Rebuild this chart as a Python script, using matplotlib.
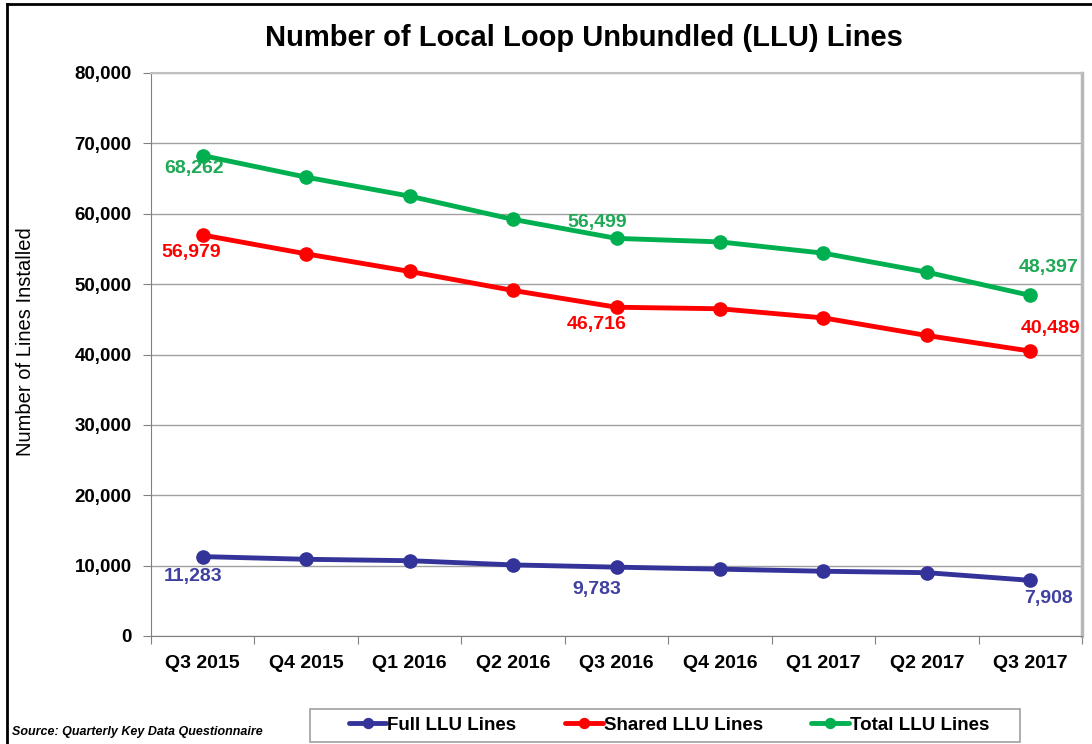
import numpy as np
import matplotlib
matplotlib.use("Agg")
from matplotlib import pyplot as plt
from matplotlib.patches import Rectangle

quarters = ["Q3 2015", "Q4 2015", "Q1 2016", "Q2 2016", "Q3 2016",
            "Q4 2016", "Q1 2017", "Q2 2017", "Q3 2017"]
full_llu = [11283, 10900, 10700, 10100, 9783, 9500, 9200, 9000, 7908]
shared_llu = [56979, 54300, 51800, 49100, 46716, 46500, 45200, 42700, 40489]
total_llu = [68262, 65200, 62500, 59200, 56499, 56000, 54400, 51700, 48397]

# which points get a value label, and where (pixel offsets)
label_idx = [0, 4, 8]
full_off = [(-10, -20), (-20, -22), (18, -18)]
shared_off = [(-12, -17), (-20, -17), (20, 23)]
total_off = [(-9, -13), (-19, 16), (18, 28)]

blue = "#333399"
red = "#ff0000"
green = "#00b050"
blue_txt = "#4040a0"
green_txt = "#1fa855"

plt.rcParams['font.family'] = ['Liberation Sans', 'DejaVu Sans']

fig = plt.figure(figsize=(10.92, 7.44), dpi=100)
ax = fig.add_axes([151 / 1092, 1 - 636 / 744, 931 / 1092, (636 - 73) / 744])

x = np.arange(len(quarters))
series = [
    (full_llu, blue, blue_txt, full_off, "Full LLU Lines"),
    (shared_llu, red, red, shared_off, "Shared LLU Lines"),
    (total_llu, green, green_txt, total_off, "Total LLU Lines"),
]
handles = []
for vals, col, tcol, offs, name in series:
    h, = ax.plot(x, vals, color=col, lw=3.5, marker="o", ms=9.5,
                 solid_capstyle="round", label=name, zorder=3)
    handles.append(h)
    for i, off in zip(label_idx, offs):
        ax.annotate(f"{vals[i]:,}", (x[i], vals[i]), xytext=off,
                    textcoords="offset pixels", ha="center", va="center",
                    fontsize=14, fontweight="bold", color=tcol)

ax.set_xlim(-0.5, len(quarters) - 0.5)
ax.set_ylim(0, 80000)
ax.set_yticks(np.arange(0, 80001, 10000))
ax.set_yticklabels([f"{v:,}" for v in range(0, 80001, 10000)],
                   fontsize=13.5, fontweight="bold")
ax.yaxis.grid(True, color="#a0a0a0", lw=1)
ax.set_axisbelow(True)

ax.set_xticks(np.arange(-0.5, len(quarters), 1))
ax.set_xticklabels([])
ax.set_xticks(x, minor=True)
ax.set_xticklabels(quarters, minor=True, fontsize=14, fontweight="bold")
ax.tick_params(axis="x", which="minor", length=0, pad=14)
ax.tick_params(axis="x", which="major", length=6, direction="out", color="#808080")
ax.tick_params(axis="y", length=6, direction="out", color="#808080", pad=8)

ax.spines["left"].set_color("#808080")
ax.spines["bottom"].set_color("#808080")
ax.spines["top"].set_color("#c0c0c0")
ax.spines["right"].set_color("#b8b8b8")
ax.spines["right"].set_linewidth(2.5)
ax.spines["top"].set_linewidth(1.5)

ax.set_ylabel("Number of Lines Installed", fontsize=14.5)
ax.yaxis.set_label_coords(-116 / 931, 0.523)

fig.text(584 / 1092, 1 - 38 / 744, "Number of Local Loop Unbundled (LLU) Lines",
         ha="center", va="center", fontsize=21, fontweight="bold")
fig.text(12 / 1092, 1 - 732 / 744, "Source: Quarterly Key Data Questionnaire",
         ha="left", va="center", fontsize=9, fontweight="bold", style="italic")

# legend without its own frame; the box is drawn separately to get the wide padding
leg = fig.legend(handles=handles, loc="center", bbox_to_anchor=(669 / 1092, 1 - 725 / 744),
                 ncol=3, frameon=False, prop={"size": 13.5, "weight": "bold"},
                 handlelength=2.0, handletextpad=0.05, columnspacing=2.6,
                 borderpad=0.4, borderaxespad=0, markerscale=0.75)
fig.add_artist(Rectangle((310 / 1092, 1 - 742 / 744), 710 / 1092, 33 / 744,
                         transform=fig.transFigure, fill=False,
                         edgecolor="#a0a0a0", lw=1.2))

# outer frame of the picture (left and top edges visible)
fig.add_artist(plt.Line2D([7 / 1092, 7 / 1092], [0, 1 - 4 / 744],
                          transform=fig.transFigure, color="black", lw=2))
fig.add_artist(plt.Line2D([7 / 1092, 1], [1 - 4 / 744, 1 - 4 / 744],
                          transform=fig.transFigure, color="black", lw=2))

fig.savefig("out.png", dpi=100)
